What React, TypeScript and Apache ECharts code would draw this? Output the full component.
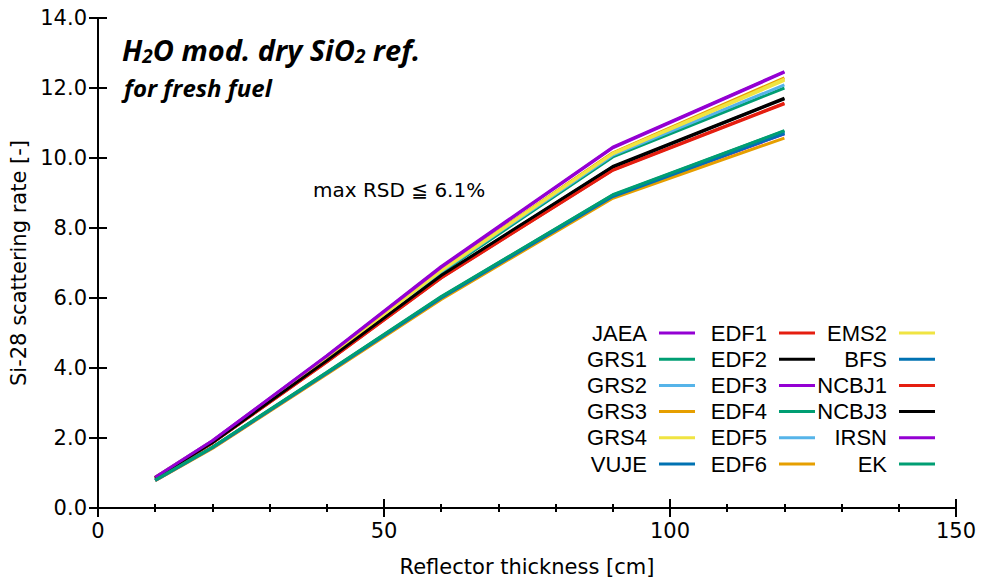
import React, { useEffect, useRef } from "react";
import * as echarts from "echarts";

// Reflector thickness [cm]
const thickness = [10, 20, 40, 60, 90, 120];

const seriesNames = [
  "JAEA", "GRS1", "GRS2", "GRS3", "GRS4", "VUJE",
  "EDF1", "EDF2", "EDF3", "EDF4", "EDF5", "EDF6",
  "EMS2", "BFS", "NCBJ1", "NCBJ3", "IRSN", "EK",
];

const PURPLE = "#9400D3";
const GREEN = "#009E73";
const LBLUE = "#56B4E9";
const ORANGE = "#E69F00";
const YELLOW = "#F0E442";
const BLUE = "#0072B2";
const RED = "#E51E10";
const BLACK = "#000000";

const seriesColors = [
  PURPLE, GREEN, LBLUE, ORANGE, YELLOW, BLUE,
  RED, BLACK, PURPLE, GREEN, LBLUE, ORANGE,
  YELLOW, BLUE, RED, BLACK, PURPLE, GREEN,
];

// Si-28 scattering rate [-]
const JAEA = [0.88, 1.92, 4.35, 6.9, 10.31, 12.47];
const GRS1 = [0.86, 1.88, 4.25, 6.72, 10.03, 12.0];
const GRS2 = [0.86, 1.89, 4.27, 6.76, 10.08, 12.09];
const GRS3 = [0.87, 1.9, 4.3, 6.8, 10.15, 12.29];
const GRS4 = [0.87, 1.9, 4.29, 6.79, 10.13, 12.25];
const VUJE = [0.8, 1.73, 3.86, 6.02, 8.92, 10.74];
const EDF1 = [0.85, 1.86, 4.18, 6.58, 9.66, 11.57];
const EDF2 = [0.86, 1.87, 4.2, 6.63, 9.74, 11.69];
const EDF3 = [0.79, 1.72, 3.85, 6.0, 8.9, 10.69];
const EDF4 = [0.8, 1.73, 3.87, 6.03, 8.94, 10.77];
const EDF5 = [0.79, 1.72, 3.85, 6.01, 8.91, 10.72];
const EDF6 = [0.78, 1.7, 3.82, 5.96, 8.85, 10.57];
const EMS2 = [0.87, 1.9, 4.28, 6.78, 10.12, 12.22];
const BFS = [0.79, 1.72, 3.85, 6.0, 8.9, 10.7];
const NCBJ1 = [0.85, 1.86, 4.17, 6.57, 9.65, 11.55];
const NCBJ3 = [0.86, 1.87, 4.21, 6.64, 9.76, 11.71];
const IRSN = [0.88, 1.92, 4.34, 6.88, 10.29, 12.45];
const EK = [0.8, 1.74, 3.88, 6.04, 8.95, 10.78];

const seriesValues = [
  JAEA, GRS1, GRS2, GRS3, GRS4, VUJE,
  EDF1, EDF2, EDF3, EDF4, EDF5, EDF6,
  EMS2, BFS, NCBJ1, NCBJ3, IRSN, EK,
];

const xTicks = [0, 50, 100, 150];
const yTicks = [0, 2, 4, 6, 8, 10, 12, 14];

const AXIS_FONT = "'DejaVu Sans', Verdana, sans-serif";
const TITLE_FONT = "'Open Sans', 'Noto Sans', sans-serif";

export default function App() {
  const ref = useRef<HTMLDivElement>(null);

  useEffect(() => {
    if (!ref.current) return;
    const chart = echarts.init(ref.current, null, { renderer: "svg" });

    const axisLine = { show: true, lineStyle: { color: "#000", width: 2 } };
    const majorTick = { show: true, inside: true, length: 9, lineStyle: { color: "#000", width: 2 } };
    const minorTick = { show: true, splitNumber: 5, length: 4, lineStyle: { color: "#000", width: 2 } };

    const legendCols = [647, 767, 887];
    const legendGraphics: any[] = [];
    seriesNames.forEach((name, i) => {
      const col = Math.floor(i / 6);
      const row = i % 6;
      const xr = legendCols[col];
      const y = 333 + row * 26.2;
      legendGraphics.push({
        type: "text",
        x: xr,
        y,
        style: {
          text: name,
          textAlign: "right",
          textVerticalAlign: "middle",
          font: "22px 'Liberation Sans', Arial, sans-serif",
          fill: "#000",
        },
      });
      legendGraphics.push({
        type: "line",
        shape: { x1: xr + 12, y1: y, x2: xr + 48, y2: y },
        style: { stroke: seriesColors[i], lineWidth: 3 },
      });
    });

    const option: any = {
      animation: false,
      backgroundColor: "#fff",
      grid: { left: 98, right: 28, top: 18, bottom: 77, containLabel: false },
      xAxis: [
        {
          type: "value",
          min: xTicks[0],
          max: xTicks[xTicks.length - 1],
          interval: 50,
          position: "bottom",
          name: "Reflector thickness [cm]",
          nameLocation: "middle",
          nameGap: 48,
          nameTextStyle: { fontFamily: AXIS_FONT, fontSize: 21, color: "#000" },
          axisLine,
          axisTick: majorTick,
          minorTick,
          axisLabel: { fontFamily: AXIS_FONT, fontSize: 21, color: "#000", margin: 12 },
          splitLine: { show: false },
          minorSplitLine: { show: false },
        },
        {
          type: "value",
          min: xTicks[0],
          max: xTicks[xTicks.length - 1],
          interval: 50,
          position: "top",
          axisLine,
          axisTick: majorTick,
          minorTick,
          axisLabel: { show: false },
          splitLine: { show: false },
        },
      ],
      yAxis: [
        {
          type: "value",
          min: yTicks[0],
          max: yTicks[yTicks.length - 1],
          interval: 2,
          position: "left",
          name: "Si-28 scattering rate [-]",
          nameLocation: "middle",
          nameGap: 66,
          nameTextStyle: { fontFamily: AXIS_FONT, fontSize: 21, color: "#000" },
          axisLine,
          axisTick: majorTick,
          axisLabel: {
            fontFamily: AXIS_FONT,
            fontSize: 21,
            color: "#000",
            margin: 11,
            formatter: (v: number) => v.toFixed(1),
          },
          splitLine: { show: false },
        },
        {
          type: "value",
          min: yTicks[0],
          max: yTicks[yTicks.length - 1],
          interval: 2,
          position: "right",
          axisLine,
          axisTick: majorTick,
          axisLabel: { show: false },
          splitLine: { show: false },
        },
      ],
      series: seriesNames.map((name, i) => ({
        name,
        type: "line",
        xAxisIndex: 0,
        yAxisIndex: 0,
        showSymbol: false,
        symbol: "none",
        lineStyle: { color: seriesColors[i], width: 3 },
        itemStyle: { color: seriesColors[i] },
        data: thickness.map((x, j) => [x, seriesValues[i][j]]),
        z: 2 + i,
      })),
      graphic: [
        {
          type: "text",
          x: 122,
          y: 34,
          style: {
            text: "{a|H}{s|2}{a|O mod. dry SiO}{s|2}{a| ref.}",
            rich: {
              a: {
                font: `italic bold 29px ${TITLE_FONT}`,
                fill: "#000",
              },
              s: {
                font: `italic bold 19px ${TITLE_FONT}`,
                fill: "#000",
                padding: [12, 0, 0, 0],
              },
            },
          },
        },
        {
          type: "text",
          x: 124,
          y: 75,
          style: {
            text: "for fresh fuel",
            font: `italic bold 24px ${TITLE_FONT}`,
            fill: "#000",
          },
        },
        {
          type: "text",
          x: 313,
          y: 190,
          style: {
            text: "max RSD ≦ 6.1%",
            textVerticalAlign: "middle",
            font: `20px ${AXIS_FONT}`,
            fill: "#000",
          },
        },
        ...legendGraphics,
      ],
    };

    chart.setOption(option);
    return () => chart.dispose();
  }, []);

  return (
    <div
      ref={ref}
      style={{ position: "absolute", left: 0, top: 0, width: 984, height: 585 }}
    />
  );
}
